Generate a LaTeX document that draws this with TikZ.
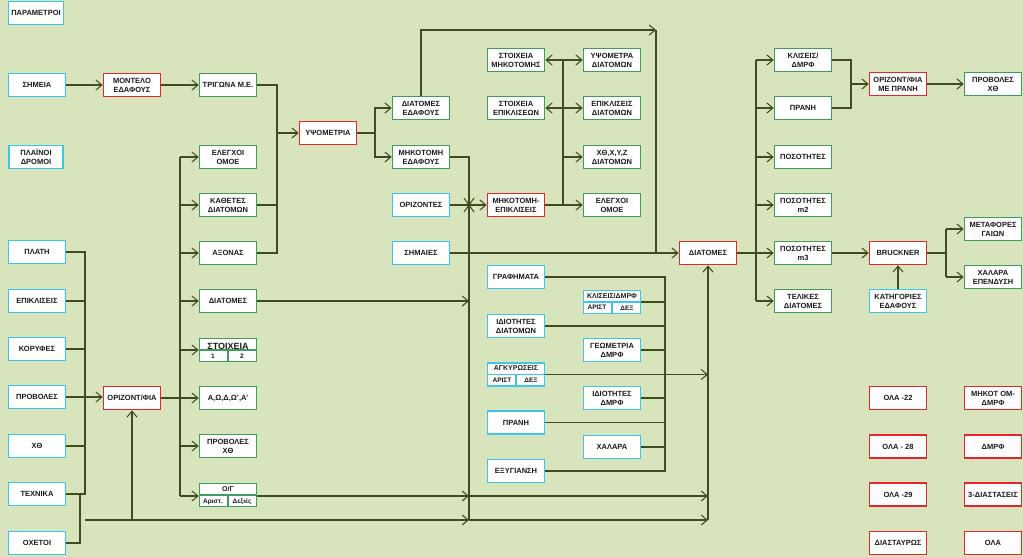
\documentclass[tikz,border=0pt]{standalone}
\usepackage{fontspec}
\setmainfont{Liberation Sans}
\usetikzlibrary{arrows.meta}
\definecolor{bgc}{HTML}{D8E4BC}
\definecolor{lnc}{HTML}{3E4C1F}
\definecolor{cyc}{HTML}{3CC6EC}
\definecolor{grc}{HTML}{3F9B5E}
\definecolor{rdc}{HTML}{E3262B}
\definecolor{txc}{HTML}{1A1A1A}
\begin{document}
\begin{tikzpicture}[x=1pt,y=-1pt,
  box/.style={draw,fill=white,line width=1.6pt,minimum width=57pt,minimum height=23pt,inner sep=0pt,align=center,text=txc,font=\bfseries\fontsize{7.5}{9}\selectfont},
  cb/.style={box,draw=cyc},
  gb/.style={box,draw=grc},
  rb/.style={box,draw=rdc},
  con/.style={draw=lnc,line width=1.05pt},
  arr/.style={con,-{Straight Barb[length=6pt,width=10pt]}},
  sub/.style={inner sep=0pt,text=txc,font=\bfseries\fontsize{6.5}{7}\selectfont},
  subtop/.style={inner sep=0pt,text=txc,font=\bfseries\fontsize{7}{7.5}\selectfont},
]
\fill[bgc] (0,0) rectangle (1023,557);
\useasboundingbox (0,0) rectangle (1023,557);
\clip (0,0) rectangle (1023,557);

% ---------- left column ----------
\node[cb,minimum width=55pt] (param) at (36,13) {ΠΑΡΑΜΕΤΡΟΙ};
\node[cb] (shmeia) at (37,85) {ΣΗΜΕΙΑ};
\node[cb,minimum width=54pt] (plain) at (36,157) {ΠΛΑΪΝΟΙ\\ΔΡΟΜΟΙ};
\node[cb] (plath) at (37,252) {ΠΛΑΤΗ};
\node[cb] (epikl) at (37,301) {ΕΠΙΚΛΙΣΕΙΣ};
\node[cb] (koryf) at (37,349) {ΚΟΡΥΦΕΣ};
\node[cb] (provl) at (37,397) {ΠΡΟΒΟΛΕΣ};
\node[cb] (xth) at (37,446) {ΧΘ};
\node[cb] (texn) at (37,494) {ΤΕΧΝΙΚΑ};
\node[cb] (oxet) at (37,543) {ΟΧΕΤΟΙ};

\node[rb] (montelo) at (132,85) {ΜΟΝΤΕΛΟ\\ΕΔΑΦΟΥΣ};
\node[rb] (orizf) at (132,398) {ΟΡΙΖΟΝΤ/ΦΙΑ};

% ---------- green column ----------
\node[gb] (trig) at (228,85) {ΤΡΙΓΩΝΑ Μ.Ε.};
\node[gb] (elegx) at (228,157) {ΕΛΕΓΧΟΙ\\ΟΜΟΕ};
\node[gb] (kath) at (228,205) {ΚΑΘΕΤΕΣ\\ΔΙΑΤΟΜΩΝ};
\node[gb] (axon) at (228,253) {ΑΞΟΝΑΣ};
\node[gb] (diat1) at (228,301) {ΔΙΑΤΟΜΕΣ};
\node[gb] (stoix) at (228,350) {};
\node[inner sep=0pt,text=txc,font=\bfseries\fontsize{9}{10}\selectfont] (stoixT) at (228,346) {ΣΤΟΙΧΕΙΑ};
\draw[grc,line width=1.4pt] (stoix.west) -- (stoix.east) (stoix.center) -- (stoix.south);
\node[sub] (stoix1) at (213,356.5) {1};
\node[sub] (stoix2) at (242,356) {2};
\node[gb] (awd) at (228,398) {Α,Ω,Δ,Ω’,Α’};
\node[gb] (provxth) at (228,446) {ΠΡΟΒΟΛΕΣ\\ΧΘ};
\node[gb] (og) at (228,495) {};
\node[subtop] (ogT) at (228,489.5) {Ο/Γ};
\draw[grc,line width=1.4pt] (og.west) -- (og.east) (og.center) -- (og.south);
\node[sub] (ogL) at (213,501.5) {Αριστ.};
\node[sub] (ogR) at (242,501.5) {Δεξιές};

% ---------- middle ----------
\node[rb] (ypsom) at (328,133) {ΥΨΟΜΕΤΡΙΑ};
\node[gb] (diated) at (421,108) {ΔΙΑΤΟΜΕΣ\\ΕΔΑΦΟΥΣ};
\node[gb] (mhked) at (421,157) {ΜΗΚΟΤΟΜΗ\\ΕΔΑΦΟΥΣ};
\node[cb] (oriz) at (421,205) {ΟΡΙΖΟΝΤΕΣ};
\node[cb] (shmaies) at (421,253) {ΣΗΜΑΙΕΣ};

\node[gb] (stmhk) at (516,60) {ΣΤΟΙΧΕΙΑ\\ΜΗΚΟΤΟΜΗΣ};
\node[gb] (stepi) at (516,108) {ΣΤΟΙΧΕΙΑ\\ΕΠΙΚΛΙΣΕΩΝ};
\node[rb] (mhkep) at (516,205) {ΜΗΚΟΤΟΜΗ-\\ΕΠΙΚΛΙΣΕΙΣ};

\node[gb] (ypsdiat) at (612,60) {ΥΨΟΜΕΤΡΑ\\ΔΙΑΤΟΜΩΝ};
\node[gb] (epdiat) at (612,108) {ΕΠΙΚΛΙΣΕΙΣ\\ΔΙΑΤΟΜΩΝ};
\node[gb] (xthdiat) at (612,157) {ΧΘ,Χ,Υ,Ζ\\ΔΙΑΤΟΜΩΝ};
\node[gb] (elegx2) at (612,205) {ΕΛΕΓΧΟΙ\\ΟΜΟΕ};

\node[cb] (graf) at (516,277) {ΓΡΑΦΗΜΑΤΑ};
\node[cb] (idiot) at (516,326) {ΙΔΙΟΤΗΤΕΣ\\ΔΙΑΤΟΜΩΝ};
\node[cb] (agk) at (516,374.5) {};
\node[subtop] (agkT) at (516,368.5) {ΑΓΚΥΡΩΣΕΙΣ};
\draw[cyc,line width=1.4pt] (agk.west) -- (agk.east) (agk.center) -- (agk.south);
\node[sub] (agkL) at (502,380.5) {ΑΡΙΣΤ};
\node[sub] (agkR) at (531,380.5) {ΔΕΞ};
\node[cb] (pranh1) at (516,422.5) {ΠΡΑΝΗ};
\node[cb] (exyg) at (516,471) {ΕΞΥΓΙΑΝΣΗ};

\node[cb] (klis) at (612,302) {};
\node[subtop] (klisT) at (612,296) {ΚΛΙΣΕΙΣ/ΔΜΡΦ};
\draw[cyc,line width=1.4pt] (klis.west) -- (klis.east) (klis.center) -- (klis.south);
\node[sub] (klisL) at (597,307.5) {ΑΡΙΣΤ};
\node[sub] (klisR) at (627,308) {ΔΕΞ};
\node[cb] (geom) at (612,350) {ΓΕΩΜΕΤΡΙΑ\\ΔΜΡΦ};
\node[cb] (idmrf) at (612,398) {ΙΔΙΟΤΗΤΕΣ\\ΔΜΡΦ};
\node[cb] (xalara) at (612,447) {ΧΑΛΑΡΑ};

% ---------- right ----------
\node[rb] (diatR) at (708,253) {ΔΙΑΤΟΜΕΣ};
\node[gb] (klisD) at (803,60) {ΚΛΙΣΕΙΣ/\\ΔΜΡΦ};
\node[gb] (pranh2) at (803,108) {ΠΡΑΝΗ};
\node[gb] (pos) at (803,157) {ΠΟΣΟΤΗΤΕΣ};
\node[gb] (pos2) at (803,205) {ΠΟΣΟΤΗΤΕΣ\\m2};
\node[gb] (pos3) at (803,253) {ΠΟΣΟΤΗΤΕΣ\\m3};
\node[gb] (telik) at (803,301) {ΤΕΛΙΚΕΣ\\ΔΙΑΤΟΜΕΣ};
\node[rb] (orizPr) at (898,84) {ΟΡΙΖΟΝΤ/ΦΙΑ\\ΜΕ ΠΡΑΝΗ};
\node[gb] (provXth2) at (993,84) {ΠΡΟΒΟΛΕΣ\\ΧΘ};
\node[rb] (bruck) at (898,253) {BRUCKNER};
\node[cb] (kat) at (898,301) {ΚΑΤΗΓΟΡΙΕΣ\\ΕΔΑΦΟΥΣ};
\node[gb] (metaf) at (993,229) {ΜΕΤΑΦΟΡΕΣ\\ΓΑΙΩΝ};
\node[gb] (xalep) at (993,277) {ΧΑΛΑΡΑ\\ΕΠΕΝΔΥΣΗ};

\node[rb] (ola22) at (898,398) {ΟΛΑ -22};
\node[rb] (ola28) at (898,446.5) {ΟΛΑ - 28};
\node[rb] (ola29) at (898,494.5) {ΟΛΑ -29};
\node[rb] (diast) at (898,543) {ΔΙΑΣΤΑΥΡΩΣ};
\node[rb] (mhkom) at (993,398) {ΜΗΚΟΤ ΟΜ-\\ΔΜΡΦ};
\node[rb] (dmrf) at (993,446.5) {ΔΜΡΦ};
\node[rb] (diast3) at (993,494.5) {3-ΔΙΑΣΤΑΣΕΙΣ};
\node[rb] (ola) at (993,543) {ΟΛΑ};

% ---------- coordinates ----------
\coordinate (L1) at (85,252);
\coordinate (L2) at (85,494);
\coordinate (L3) at (80,494);
\coordinate (B0) at (85,520);
\coordinate (B1) at (469,520);
\coordinate (B2) at (708,520);
\coordinate (C1) at (180,157);
\coordinate (C2) at (180,496);
\coordinate (D1) at (277,85);
\coordinate (D2) at (277,253);
\coordinate (Y1) at (375,133);
\coordinate (T1) at (421,30);
\coordinate (T2) at (656,30);
\coordinate (T3) at (656,253);
\coordinate (M1) at (469,157);
\coordinate (X0) at (469,205);
\coordinate (E1) at (563,60);
\coordinate (E2) at (563,205);
\coordinate (F1) at (665,277);
\coordinate (F2) at (665,471);
\coordinate (G0) at (756,253);
\coordinate (G1) at (756,60);
\coordinate (G2) at (756,301);
\coordinate (H1) at (851,60);
\coordinate (H2) at (851,108);
\coordinate (K0) at (946,253);
\coordinate (K1) at (946,229);
\coordinate (K2) at (946,277);

% ---------- connectors: left ----------
\draw[arr] (shmeia) -- (montelo);
\draw[arr] (montelo) -- (trig);
\draw[con] (plath.east) -- (L1) -- (L2) -- (texn.east);
\draw[con] (epikl.east) -- (epikl.east -| L1);
\draw[con] (koryf.east) -- (koryf.east -| L1);
\draw[con] (xth.east) -- (xth.east -| L1);
\draw[con] (oxet.east) -| (L3);
\draw[arr] (provl.east) -- (provl.east -| orizf.west);
\draw[arr] (B0) -- (B1);
\draw[arr] (B1) -- (B2);
\draw[arr] (B0 -| orizf) -- (orizf.south);

% x=180 collector
\draw[con] (C1) -- (C2);
\draw[arr] (C1) -- (elegx.west);
\draw[arr] (kath.west -| C1) -- (kath.west);
\draw[arr] (axon.west -| C1) -- (axon.west);
\draw[arr] (diat1.west -| C1) -- (diat1.west);
\draw[arr] (stoix.west -| C1) -- (stoix.west);
\draw[arr] (orizf.east) -- (awd.west);
\draw[arr] (provxth.west -| C1) -- (provxth.west);
\draw[arr] (C2) -- (C2 -| og.west);

% x=277 collector
\draw[con] (trig.east) -- (D1) -- (D2) -- (axon.east);
\draw[con] (kath.east) -- (kath.east -| D1);
\draw[arr] (ypsom.west -| D1) -- (ypsom.west);

% ΥΨΟΜΕΤΡΙΑ branches
\draw[con] (ypsom.east) -- (Y1);
\draw[arr] (Y1) |- (diated.west);
\draw[arr] (Y1) |- (mhked.west);

% top loop
\draw[arr] (diated.north) -- (T1) -- (T2);
\draw[con] (T2) -- (T3);
\draw[arr] (shmaies.east) -- (diatR.west);

% x=469 collector
\draw[con] (mhked.east) -- (M1) -- (B1);
\draw[arr] (oriz) -- (mhkep);
\draw[con] ([shift={(-5,-7)}]X0) -- ([shift={(5,7)}]X0) ([shift={(-5,7)}]X0) -- ([shift={(5,-7)}]X0);
\draw[arr] (diat1.east) -- (diat1.east -| M1);
\draw[arr] (C2 -| og.east) -- (C2 -| M1);
\draw[arr] (C2 -| M1) -- (C2 -| B2);

% x=563 branches
\draw[con] (E1) -- (E2);
\draw[arr] (E1) -- (stmhk.east);
\draw[arr] (E1) -- (ypsdiat.west);
\draw[arr] (stepi.east -| E1) -- (stepi.east);
\draw[arr] (stepi.east -| E1) -- (epdiat.west);
\draw[arr] (xthdiat.west -| E1) -- (xthdiat.west);
\draw[arr] (mhkep.east) -- (elegx2.west);

% x=665 collector
\draw[con] (graf.east) -- (F1) -- (F2) -- (exyg.east);
\draw[con] (klis.east) -- (klis.east -| F1);
\draw[con] (idiot.east) -- (idiot.east -| F1);
\draw[con] (geom.east) -- (geom.east -| F1);
\draw[con] (idmrf.east) -- (idmrf.east -| F1);
\draw[con] (pranh1.east) -- (pranh1.east -| F1);
\draw[con] (xalara.east) -- (xalara.east -| F1);
\draw[arr] (agk.east) -- (agk.east -| B2);
\draw[arr] (B2) -- (diatR.south);

% right part
\draw[con] (diatR.east) -- (G0);
\draw[con] (G1) -- (G2);
\draw[arr] (G1) -- (klisD.west);
\draw[arr] (pranh2.west -| G1) -- (pranh2.west);
\draw[arr] (pos.west -| G1) -- (pos.west);
\draw[arr] (pos2.west -| G1) -- (pos2.west);
\draw[arr] (G0) -- (pos3.west);
\draw[arr] (G2) -- (telik.west);
\draw[con] (klisD.east) -- (H1) -- (H2) -- (pranh2.east);
\draw[arr] (orizPr.west -| H1) -- (orizPr.west);
\draw[arr] (orizPr) -- (provXth2);
\draw[arr] (pos3) -- (bruck);
\draw[arr] (kat) -- (bruck);
\draw[con] (bruck.east) -- (K0);
\draw[con] (K1) -- (K2);
\draw[arr] (K1) -- (metaf.west);
\draw[arr] (K2) -- (xalep.west);
\end{tikzpicture}
\end{document}
